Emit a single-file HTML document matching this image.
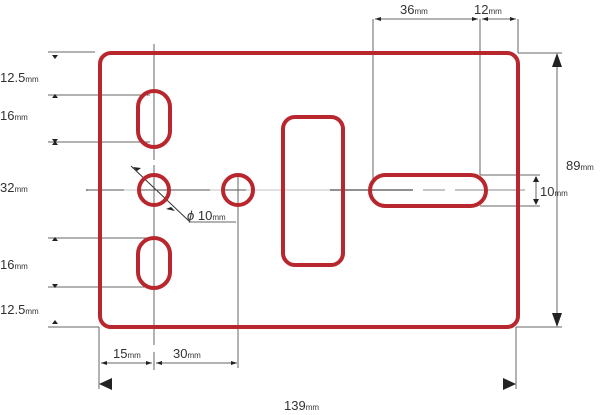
<!DOCTYPE html>
<html><head><meta charset="utf-8"><style>
html,body{margin:0;padding:0;background:#fff;}
svg{display:block;}
text{font-family:"Liberation Sans","DejaVu Sans",sans-serif;fill:#333;}
.s{font-size:8px;}
</style></head><body>
<svg width="600" height="415" viewBox="0 0 600 415" xmlns="http://www.w3.org/2000/svg">
<g stroke="#666" stroke-width="1" fill="none">
<!-- center lines -->
<line x1="154" y1="44" x2="154" y2="160"/>
<line x1="154" y1="165" x2="154" y2="345"/>
<line x1="154" y1="352" x2="154" y2="370"/>
<line x1="238" y1="175" x2="238" y2="368"/>
<line x1="373" y1="19" x2="373" y2="182"/>
<line x1="480" y1="19" x2="480" y2="175"/>
<line x1="518" y1="19" x2="518" y2="53"/>
<line x1="518" y1="53" x2="562" y2="53"/>
<line x1="516" y1="327" x2="562" y2="327"/>
<line x1="516" y1="327" x2="516" y2="389"/>
<line x1="99" y1="327" x2="99" y2="389"/>
<line x1="480" y1="175" x2="540" y2="175"/>
<line x1="480" y1="206" x2="540" y2="206"/>
<!-- left dims -->
<line x1="48" y1="52" x2="95" y2="52"/>
<line x1="48" y1="95" x2="150" y2="95"/>
<line x1="48" y1="142" x2="150" y2="142"/>
<line x1="48" y1="238" x2="150" y2="238"/>
<line x1="48" y1="287" x2="150" y2="287"/>
<line x1="48" y1="327" x2="99" y2="327"/>
<!-- horizontal dims -->
<line x1="101" y1="363" x2="152" y2="363"/>
<line x1="156" y1="363" x2="237" y2="363"/>
<line x1="375" y1="19" x2="478" y2="19"/>
<line x1="482" y1="19" x2="516" y2="19"/>
<line x1="557" y1="60" x2="557" y2="320"/>
<line x1="536" y1="178" x2="536" y2="203"/>
<!-- phi leader -->
<line x1="131" y1="166" x2="190" y2="222" stroke="#333"/>
<line x1="190" y1="222" x2="236" y2="222"/>
</g>
<g stroke="#222" stroke-width="1">
<line x1="86" y1="190" x2="124" y2="190"/>
<line x1="138" y1="190" x2="210" y2="190"/>
<line x1="222" y1="190" x2="246" y2="190"/>
<line x1="330" y1="190" x2="413" y2="190"/>
</g>
<g stroke="#888" stroke-width="1">
<line x1="88" y1="190" x2="330" y2="190" stroke-opacity="0.5"/>
<line x1="423" y1="190" x2="445" y2="190"/>
<line x1="455" y1="190" x2="525" y2="190"/>
</g>
<g fill="#222">
<polygon points="52,55 58,55 55,59"/>
<polygon points="52,98 58,98 55,94"/>
<polygon points="52,139 58,139 55,143"/>
<polygon points="52,145 58,145 55,141"/>
<polygon points="52,241 58,241 55,237"/>
<polygon points="52,284 58,284 55,288"/>
<polygon points="52,324 58,324 55,320"/>
<polygon points="101,363 107,361 107,365"/>
<polygon points="152,363 146,361 146,365"/>
<polygon points="156,363 162,361 162,365"/>
<polygon points="237,363 231,361 231,365"/>
<polygon points="375,19 381,17 381,21"/>
<polygon points="478,19 472,17 472,21"/>
<polygon points="482,19 488,17 488,21"/>
<polygon points="516,19 510,17 510,21"/>
<polygon points="557,53 552,67 562,67"/>
<polygon points="557,327 552,313 562,313"/>
<polygon points="99,384 112,378 112,390"/>
<polygon points="516,384 503,378 503,390"/>
<polygon points="536,176 533,182 539,182"/>
<polygon points="536,205 533,199 539,199"/>
<polygon points="137,171 133,167 141,168"/>
<polygon points="171,207 175,211 166,209"/>
</g>
<g fill="none" stroke="#b8272d" stroke-width="4">
<rect x="100" y="53" width="418" height="274" rx="11"/>
<rect x="138" y="91" width="32" height="56" rx="16"/>
<rect x="138" y="238" width="32" height="50" rx="16"/>
<circle cx="154" cy="190" r="15"/>
<circle cx="238" cy="190" r="15"/>
<rect x="283" y="117" width="60" height="148" rx="12"/>
<rect x="370" y="175" width="116" height="31" rx="15.5"/>
</g>
<g font-size="13">
<text x="0" y="82">12.5<tspan class="s">mm</tspan></text>
<text x="0" y="120">16<tspan class="s">mm</tspan></text>
<text x="0" y="192">32<tspan class="s">mm</tspan></text>
<text x="0" y="269">16<tspan class="s">mm</tspan></text>
<text x="0" y="314">12.5<tspan class="s">mm</tspan></text>
<text x="113" y="358">15<tspan class="s">mm</tspan></text>
<text x="173" y="358">30<tspan class="s">mm</tspan></text>
<text x="400" y="14">36<tspan class="s">mm</tspan></text>
<text x="474" y="14">12<tspan class="s">mm</tspan></text>
<text x="566" y="170">89<tspan class="s">mm</tspan></text>
<text x="540" y="196">10<tspan class="s">mm</tspan></text>
<text x="187" y="220"><tspan font-style="italic">ϕ</tspan> 10<tspan class="s">mm</tspan></text>
<text x="284" y="410">139<tspan class="s">mm</tspan></text>
</g>
</svg>
</body></html>
